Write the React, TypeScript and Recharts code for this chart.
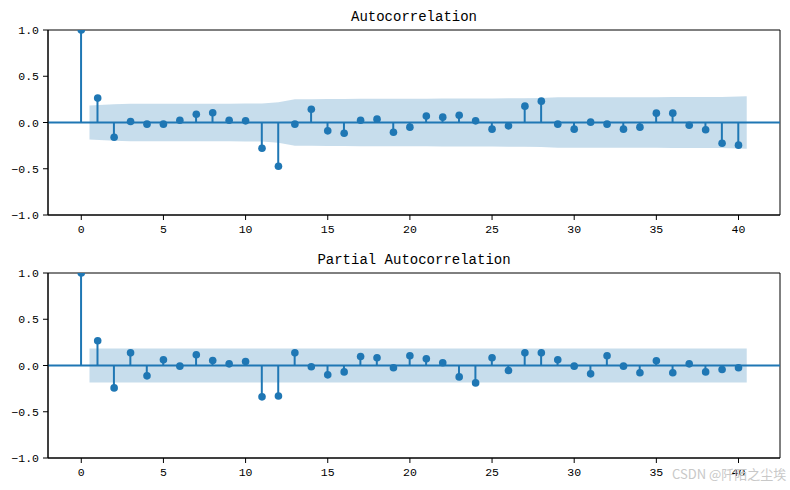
import React from 'react';
import {
  ComposedChart,
  Bar,
  Line,
  Area,
  XAxis,
  YAxis,
  ReferenceLine,
  ReferenceArea,
} from 'recharts';

// ---------------- data ----------------
const lags = [
  0, 1, 2, 3, 4, 5, 6, 7, 8, 9, 10, 11, 12, 13, 14, 15, 16, 17, 18, 19, 20,
  21, 22, 23, 24, 25, 26, 27, 28, 29, 30, 31, 32, 33, 34, 35, 36, 37, 38, 39, 40,
];

const acfValues = [
  1.0, 0.264, -0.159, 0.01, -0.018, -0.018, 0.025, 0.09, 0.105, 0.025, 0.018,
  -0.278, -0.473, -0.018, 0.144, -0.09, -0.116, 0.025, 0.036, -0.105, -0.05,
  0.069, 0.058, 0.079, 0.018, -0.072, -0.036, 0.177, 0.231, -0.018, -0.072,
  0.004, -0.018, -0.072, -0.05, 0.101, 0.101, -0.029, -0.079, -0.224, -0.245,
];

// half-width of the 95% confidence band, lags 1..40
const acfBand = [
  0.185, 0.198, 0.202, 0.202, 0.202, 0.202, 0.202, 0.202, 0.203, 0.205,
  0.205, 0.218, 0.251, 0.251, 0.254, 0.255, 0.256, 0.256, 0.257, 0.258,
  0.258, 0.259, 0.259, 0.26, 0.26, 0.261, 0.261, 0.265, 0.272, 0.272,
  0.273, 0.273, 0.273, 0.273, 0.274, 0.275, 0.276, 0.276, 0.277, 0.283,
];

const pacfValues = [
  1.0, 0.267, -0.242, 0.137, -0.112, 0.061, -0.007, 0.116, 0.054, 0.018, 0.043,
  -0.339, -0.329, 0.137, -0.014, -0.101, -0.069, 0.097, 0.083, -0.025, 0.105,
  0.072, 0.029, -0.123, -0.188, 0.083, -0.054, 0.137, 0.137, 0.061, -0.007,
  -0.09, 0.105, -0.007, -0.079, 0.051, -0.079, 0.018, -0.069, -0.043, -0.025,
];

const pacfBand = [
  0.185, 0.185, 0.185, 0.185, 0.185, 0.185, 0.185, 0.185, 0.185, 0.185,
  0.185, 0.185, 0.185, 0.185, 0.185, 0.185, 0.185, 0.185, 0.185, 0.185,
  0.185, 0.185, 0.185, 0.185, 0.185, 0.185, 0.185, 0.185, 0.185, 0.185,
  0.185, 0.185, 0.185, 0.185, 0.185, 0.185, 0.185, 0.185, 0.185, 0.185,
];

const xTicks = [0, 5, 10, 15, 20, 25, 30, 35, 40];
const yTicks = [-1.0, -0.5, 0.0, 0.5, 1.0];

const titles = ['Autocorrelation', 'Partial Autocorrelation'];
const watermark = 'CSDN @阡陌之尘埃';

// ---------------- style ----------------
const C0 = '#1f77b4';
const W = 790;
const H = 245;
const MARGIN = { top: 30, right: 10, bottom: 0, left: 8 };
const X_DOMAIN: [number, number] = [-2.025, 42.525];
const Y_DOMAIN: [number, number] = [-1, 1];
const TICK_FONT = { fontFamily: 'Liberation Mono', fontSize: 11.5, fill: '#000' };

const fmtY = (v: number) => (v < 0 ? '\u2212' : '') + Math.abs(v).toFixed(1);

function buildRows(values: number[]) {
  return lags.map((lag, i) => ({ lag, v: values[i] }));
}

function buildBand(band: number[]) {
  // matplotlib/statsmodels: band starts half a lag before lag 1 and ends half a lag after the last lag
  const xs = lags.slice(1);
  return xs.map((lag, i) => ({
    lag: i === 0 ? lag - 0.5 : i === xs.length - 1 ? lag + 0.5 : lag,
    b: [-band[i], band[i]],
  }));
}

function Axes({ visible }: { visible: boolean }) {
  return null;
}

function Panel({ values, band, top }: { values: number[]; band: number[]; top: number }) {
  const rows = buildRows(values);
  const bandRows = buildBand(band);
  return (
    <div style={{ position: 'absolute', left: 0, top, width: W, height: H }}>
      {/* band layer */}
      <div style={{ position: 'absolute', left: 0, top: 0 }}>
        <ComposedChart width={W} height={H} data={bandRows} margin={MARGIN}>
          <XAxis
            type="number"
            dataKey="lag"
            domain={X_DOMAIN}
            allowDataOverflow
            ticks={xTicks}
            height={30}
            tick={false}
            axisLine={false}
            tickLine={false}
          />
          <YAxis
            type="number"
            domain={Y_DOMAIN}
            allowDataOverflow
            ticks={yTicks}
            width={40}
            tick={false}
            axisLine={false}
            tickLine={false}
          />
          <Area
            type="linear"
            dataKey="b"
            stroke="none"
            fill={C0}
            fillOpacity={0.25}
            isAnimationActive={false}
            dot={false}
            activeDot={false}
          />
        </ComposedChart>
      </div>
      {/* stems, markers, axes */}
      <div style={{ position: 'absolute', left: 0, top: 0 }}>
        <ComposedChart width={W} height={H} data={rows} margin={MARGIN}>
          <XAxis
            type="number"
            dataKey="lag"
            domain={X_DOMAIN}
            allowDataOverflow
            ticks={xTicks}
            interval={0}
            height={30}
            tick={TICK_FONT}
            tickFormatter={(v: number) => String(v)}
            axisLine={{ stroke: '#000', strokeWidth: 1 }}
            tickLine={{ stroke: '#000', strokeWidth: 1 }}
            tickSize={5}
            tickMargin={5}
          />
          <YAxis
            type="number"
            domain={Y_DOMAIN}
            allowDataOverflow
            ticks={yTicks}
            interval={0}
            width={40}
            tick={TICK_FONT}
            tickFormatter={fmtY}
            axisLine={{ stroke: '#000', strokeWidth: 1 }}
            tickLine={{ stroke: '#000', strokeWidth: 1 }}
            tickSize={5}
            tickMargin={4}
          />
          <ReferenceArea
            x1={X_DOMAIN[0]}
            x2={X_DOMAIN[1]}
            y1={-1}
            y2={1}
            fill="none"
            fillOpacity={0}
            stroke="#000"
            strokeWidth={1}
            ifOverflow="visible"
          />
          <Bar dataKey="v" barSize={2} fill={C0} isAnimationActive={false} />
          <ReferenceLine y={0} stroke={C0} strokeWidth={2} />
          <Line
            type="linear"
            dataKey="v"
            stroke="none"
            dot={{ r: 3.8, fill: C0, stroke: 'none' }}
            activeDot={false}
            isAnimationActive={false}
          />
        </ComposedChart>
      </div>
    </div>
  );
}

export default function App() {
  return (
    <div style={{ position: 'absolute', left: 0, top: 0, width: W, height: 490, background: '#fff' }}>
      <Panel values={acfValues} band={acfBand} top={0} />
      <Panel values={pacfValues} band={pacfBand} top={243} />
      <svg
        width={W}
        height={490}
        style={{ position: 'absolute', left: 0, top: 0, pointerEvents: 'none' }}
      >
        <text x={414} y={21} textAnchor="middle" fontFamily="Liberation Mono" fontSize={14} fill="#000">
          {titles[0]}
        </text>
        <text x={414} y={264} textAnchor="middle" fontFamily="Liberation Mono" fontSize={14} fill="#000">
          {titles[1]}
        </text>
        <text x={672} y={479} fontFamily="Noto Sans CJK SC" fontSize={13} fill="#c8c8c8">
          {watermark}
        </text>
      </svg>
    </div>
  );
}
